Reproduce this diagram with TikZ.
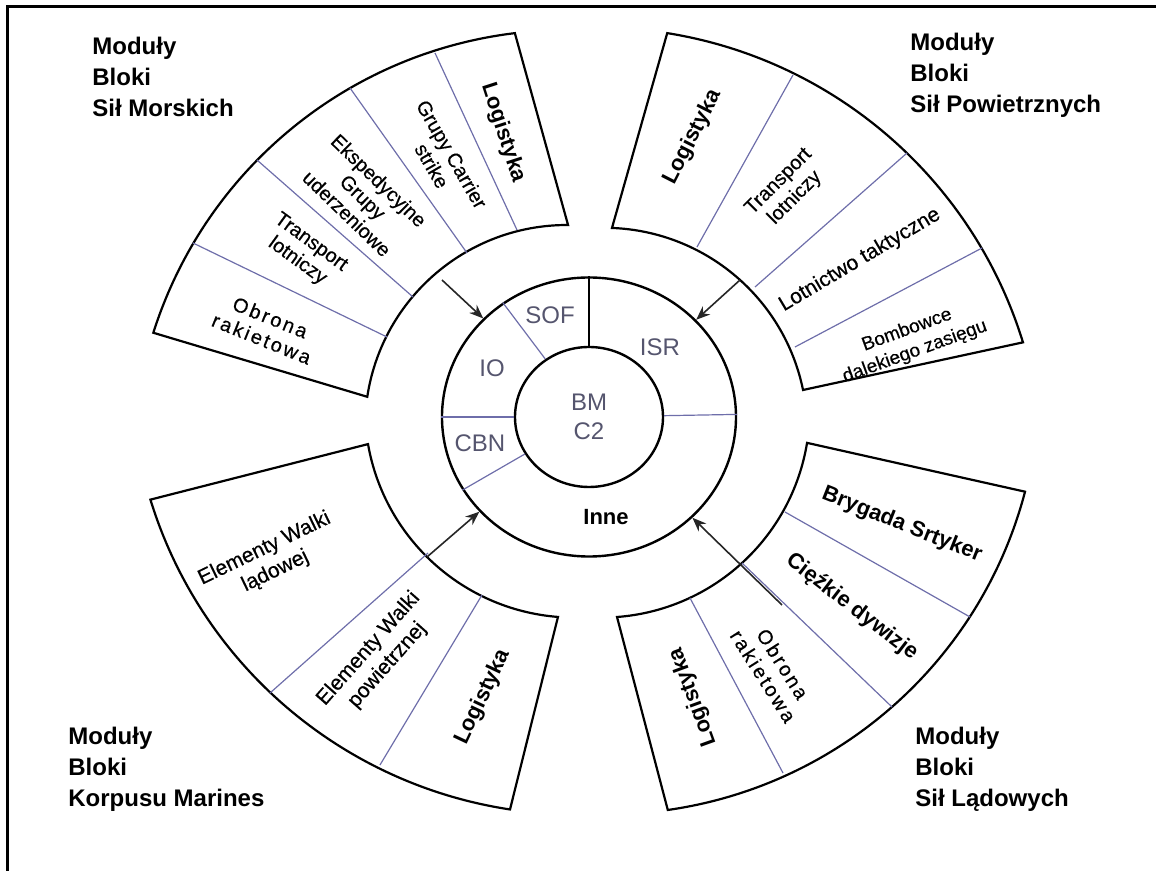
\documentclass[tikz,border=0pt]{standalone}
\usepackage{fontspec}
\setmainfont{Liberation Sans}
\usetikzlibrary{arrows.meta,shapes.geometric}
\definecolor{linia}{RGB}{110,110,170}
\definecolor{napis}{RGB}{85,85,110}

\begin{document}
\begin{tikzpicture}
	 [x=0.5pt,y=0.5pt,every node/.style={inner sep=0pt,align=center},
	  ob/.style={draw=black,line width=1.1pt},
	  dz/.style={draw=linia,line width=0.6pt},
	  st/.style={draw=black!85,line width=0.8pt,-{Stealth[length=7pt,width=5.5pt]}},
	  kolo/.style={draw=black,ellipse,line width=1.2pt,inner sep=0pt},
	  naglowek/.style={anchor=north west,align=left,font=\fontsize{12}{15.5}\selectfont\bfseries},
	  duzy/.style={font=\fontsize{11}{13}\selectfont\bfseries},
	  sredni/.style={font=\fontsize{10.5}{12.5}\selectfont\addfontfeature{FakeBold=0.4}},
	  maly/.style={font=\fontsize{10}{11.5}\selectfont\addfontfeature{FakeBold=0.4}},
	  srodek/.style={text=napis,font=\fontsize{12}{14.5}\selectfont}]

	\useasboundingbox (-589,-454) rectangle (567,417);
	\draw[line width=1.5pt] (-581,-454) -- (-581,410) -- (567,410);

	% bloki
	\draw[ob] ([shift={(-22,-47)}]96.9:434) arc[start angle=96.9,end angle=162.4,radius=217pt]
	  -- ([shift={(-22,-10)}]171.4:202) arc[start angle=171.4,end angle=89.7,radius=101pt] -- cycle;
	\draw[ob] ([shift={(7.7,-56.5)}]80.9:446) arc[start angle=80.9,end angle=17.1,radius=223pt]
	  -- ([shift={(15.2,-13.8)}]11.6:203) arc[start angle=11.6,end angle=87.8,radius=101.5pt] -- cycle;
	\draw[ob] ([shift={(-12.3,48.5)}]197.1:446) arc[start angle=197.1,end angle=261.4,radius=223pt]
	  -- ([shift={(-14.6,8.9)}]265.5:209.5) arc[start angle=265.5,end angle=189.9,radius=104.75pt] -- cycle;
	\draw[ob] ([shift={(17.9,35)}]-14.7:432.3) arc[start angle=-14.7,end angle=-81.9,radius=216.15pt]
	  -- ([shift={(12.4,7.8)}]-85.7:208.4) arc[start angle=-85.7,end angle=-9.3,radius=104.2pt] -- cycle;

	\foreach \xa/\ya/\xb/\yb in {-154/364/-72/187,-239/329/-122/164,-332/257/-176/120,-396/174/-202/80,
	    204/342/108/170,318/264/166/130,393/169/206/70,
	    -161/-136/-319/-276,-107/-178/-209/-348,
	    196/-95/381/-200,153/-146/303/-290,101/-181/194/-356}
    \draw[dz] (\xa,\ya) -- (\xb,\yb);

	% srodek
	  \node[kolo,minimum width=147pt,minimum height=139.5pt] (pierscien) at (0,0) {};
	  \node[kolo,minimum width=74pt,minimum height=70pt,srodek] (bm) at (0,0) {BM\\C2};

	\draw[line width=0.8pt] (bm.90) -- (pierscien.90);
	\foreach \k in {127,180,210,1}
    \draw[dz] (bm.\k) -- (pierscien.\k);

	  \node[srodek] (sof) at (-39,102) {SOF};
	  \node[srodek] (isr) at (71,70) {ISR};
	  \node[srodek] (io) at (-97,49) {IO};
	  \node[srodek] (cbn) at (-109,-26) {CBN};
	  \node[font=\fontsize{11}{13}\selectfont\bfseries] (inne) at (17,-100) {Inne};

	  \coordinate (s1) at (-147,137);
	  \coordinate (s2) at (151,137);
	  \coordinate (s3) at (-162,-140);
	  \coordinate (s4) at (193,-188);

	\foreach \s in {s1,s2,s3,s4}
    \draw[st] (\s) -- (pierscien);

	% opisy blokow
	  \node[duzy,rotate=-72] (m1) at (-86,284) {Logistyka};
	  \node[maly,rotate=-60] (m2) at (-147,257) {Grupy Carrier\\strike};
	  \node[maly,rotate=-44] (m3) at (-226,220) {Ekspedycyjne\\Grupy\\uderzeniowe};
	  \node[maly,rotate=-36] (m4) at (-285,165) {Transport\\lotniczy};
	  \node[maly,rotate=-22] (m5) at (-323,89) {\addfontfeature{LetterSpace=12}Obrona\\\addfontfeature{LetterSpace=12}rakietowa};

	  \node[duzy,rotate=63] (p1) at (104,280) {Logistyka};
	  \node[maly,rotate=45] (p2) at (198,227) {Transport\\lotniczy};
	  \node[sredni,rotate=30.7] (p3) at (271,157) {Lotnictwo taktyczne};
	  \node[maly,font=\fontsize{9.5}{11.5}\selectfont\addfontfeature{FakeBold=0.4},rotate=20] (p4) at (322,76) {Bombowce\\dalekiego zasięgu};

	  \node[sredni,rotate=25.7] (k1) at (-319,-143) {Elementy Walki\\lądowej};
	  \node[sredni,rotate=48.5] (k2) at (-211,-240) {Elementy Walki\\powietrznej};
	  \node[duzy,rotate=64.7] (k3) at (-106,-280) {Logistyka};

	  \node[duzy,rotate=-21.7] (l1) at (313,-108) {Brygada Srtyker};
	  \node[duzy,rotate=-37.6] (l2) at (263,-190) {Cięźkie dywizje};
	  \node[maly,rotate=-57.7] (l3) at (184,-253) {\addfontfeature{LetterSpace=12}Obrona\\\addfontfeature{LetterSpace=12}rakietowa};
	  \node[duzy,rotate=110] (l4) at (104,-280) {Logistyka};

	% naglowki
	  \node[naglowek] (L1) at (-497,380) {Moduły\\Bloki\\Sił Morskich};
	  \node[naglowek] (L2) at (321,384) {Moduły\\Bloki\\Sił Powietrznych};
	  \node[naglowek] (L3) at (-521,-310) {Moduły\\Bloki\\Korpusu Marines};
	  \node[naglowek] (L4) at (326,-310) {Moduły\\Bloki\\Sił Lądowych};

\end{tikzpicture}
\end{document}
